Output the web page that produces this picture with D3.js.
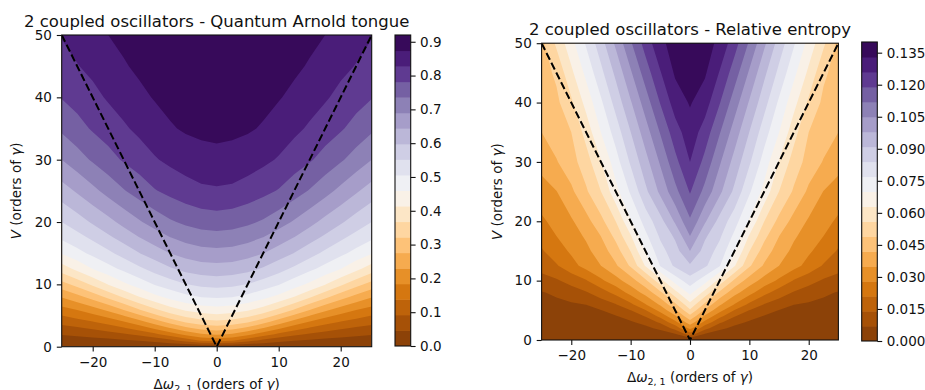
<!DOCTYPE html>
<html>
<head>
<meta charset="utf-8">
<script src="https://cdnjs.cloudflare.com/ajax/libs/d3/7.8.5/d3.min.js"></script>
<style>
  body { margin: 0; background: #fff; }
  svg { font-family: "DejaVu Sans", sans-serif; }
</style>
</head>
<body>
<script>
// grid the two maps were read on (detuning columns, coupling rows)
var deltaCols = [-25, -22.5, -20, -17.5, -15, -12.5, -10, -7.5, -5, -2.5, 0, 2.5, 5, 7.5, 10, 12.5, 15, 17.5, 20, 22.5, 25];
var vRows = [0, 1, 2, 3, 4, 5, 6, 8, 10, 12.5, 15, 17.5, 20, 25, 30, 35, 40, 45, 50];

// quantum Arnold tongue, one row per V value (estimated from the contour bands)
var arnoldRows = [
  [0,0,0,0,0,0,0,0,0,0,0,0,0,0,0,0,0,0,0,0,0],
  [.024,.027,.030,.034,.040,.048,.061,.081,.110,.143,.156,.143,.110,.081,.061,.048,.040,.034,.030,.027,.024],
  [.049,.055,.063,.073,.086,.104,.129,.161,.197,.226,.237,.226,.197,.161,.129,.104,.086,.073,.063,.055,.049],
  [.078,.087,.099,.115,.135,.160,.193,.231,.267,.292,.302,.292,.267,.231,.193,.160,.135,.115,.099,.087,.078],
  [.107,.121,.137,.157,.182,.215,.253,.294,.329,.350,.358,.350,.329,.294,.253,.215,.182,.157,.137,.121,.107],
  [.138,.155,.174,.199,.231,.269,.312,.350,.380,.398,.405,.398,.380,.350,.312,.269,.231,.199,.174,.155,.138],
  [.169,.188,.213,.244,.281,.323,.363,.398,.424,.439,.445,.439,.424,.398,.363,.323,.281,.244,.213,.188,.169],
  [.234,.262,.296,.334,.375,.414,.448,.474,.494,.508,.512,.508,.494,.474,.448,.414,.375,.334,.296,.262,.234],
  [.304,.339,.377,.416,.451,.481,.509,.531,.551,.563,.567,.563,.551,.531,.509,.481,.451,.416,.377,.339,.304],
  [.391,.426,.461,.490,.517,.543,.569,.593,.611,.622,.626,.622,.611,.593,.569,.543,.517,.490,.461,.426,.391],
  [.464,.491,.517,.542,.569,.597,.621,.645,.661,.672,.675,.672,.661,.645,.621,.597,.569,.542,.517,.491,.464],
  [.514,.536,.561,.589,.616,.643,.667,.689,.705,.715,.719,.715,.705,.689,.667,.643,.616,.589,.561,.536,.514],
  [.552,.577,.604,.630,.658,.685,.709,.730,.745,.755,.759,.755,.745,.730,.709,.685,.658,.630,.604,.577,.552],
  [.624,.650,.678,.706,.733,.756,.779,.795,.808,.819,.822,.819,.808,.795,.779,.756,.733,.706,.678,.650,.624],
  [.690,.716,.742,.765,.787,.805,.824,.838,.850,.859,.862,.859,.850,.838,.824,.805,.787,.765,.742,.716,.690],
  [.744,.766,.787,.804,.822,.838,.854,.870,.879,.883,.885,.883,.879,.870,.854,.838,.822,.804,.787,.766,.744],
  [.784,.799,.816,.833,.847,.864,.877,.886,.893,.896,.897,.896,.893,.886,.877,.864,.847,.833,.816,.799,.784],
  [.809,.826,.839,.853,.870,.882,.892,.899,.904,.906,.907,.906,.904,.899,.892,.882,.870,.853,.839,.826,.809],
  [.831,.844,.858,.874,.885,.897,.903,.908,.912,.914,.915,.914,.912,.908,.903,.897,.885,.874,.858,.844,.831]
];

// relative entropy, same grid
var entropyRows = [
  [0,0,0,0,0,0,0,0,0,0,0,0,0,0,0,0,0,0,0,0,0],
  [.0008,.0009,.0010,.0012,.0014,.0016,.0020,.0027,.0038,.0066,.018,.0066,.0038,.0027,.0020,.0016,.0014,.0012,.0010,.0009,.0008],
  [.0016,.0018,.0021,.0023,.0027,.0032,.0040,.0053,.0086,.0165,.030,.0165,.0086,.0053,.0040,.0032,.0027,.0023,.0021,.0018,.0016],
  [.0025,.0027,.0031,.0035,.0041,.0049,.0061,.0093,.0152,.026,.039,.026,.0152,.0093,.0061,.0049,.0041,.0035,.0031,.0027,.0025],
  [.0033,.0037,.0041,.0047,.0054,.0065,.0098,.0144,.023,.0339,.047,.0339,.023,.0144,.0098,.0065,.0054,.0047,.0041,.0037,.0033],
  [.0041,.0046,.0051,.0058,.0068,.0101,.0139,.0207,.0304,.0408,.055,.0408,.0304,.0207,.0139,.0101,.0068,.0058,.0051,.0046,.0041],
  [.0049,.0055,.0062,.0071,.0104,.0137,.0194,.0277,.036,.0475,.061,.0475,.036,.0277,.0194,.0137,.0104,.0071,.0062,.0055,.0049],
  [.0066,.0081,.0107,.0134,.0176,.0233,.0305,.0375,.0475,.0607,.072,.0607,.0475,.0375,.0305,.0233,.0176,.0134,.0107,.0081,.0066],
  [.011,.0131,.0164,.0204,.0266,.0323,.0386,.0475,.0604,.0728,.081,.0728,.0604,.0475,.0386,.0323,.0266,.0204,.0164,.0131,.011],
  [.017,.0203,.0255,.0305,.035,.041,.05,.0636,.0774,.0853,.09,.0853,.0774,.0636,.05,.041,.035,.0305,.0255,.0203,.017],
  [.0203,.0247,.0291,.0333,.0385,.0458,.0562,.0706,.0814,.0882,.098,.0882,.0814,.0706,.0562,.0458,.0385,.0333,.0291,.0247,.0203],
  [.0235,.028,.0318,.036,.0421,.051,.0624,.0754,.0851,.0922,.105,.0922,.0851,.0754,.0624,.051,.0421,.036,.0318,.028,.0235],
  [.0267,.0305,.0341,.0395,.047,.0561,.0692,.0799,.0886,.099,.111,.099,.0886,.0799,.0692,.0561,.047,.0395,.0341,.0305,.0267],
  [.0323,.0348,.0406,.048,.056,.0677,.078,.0894,.0996,.1099,.1196,.1099,.0996,.0894,.078,.0677,.056,.048,.0406,.0348,.0323],
  [.0373,.0415,.0463,.0528,.0625,.074,.085,.0954,.1059,.1169,.126,.1169,.1059,.0954,.085,.074,.0625,.0528,.0463,.0415,.0373],
  [.042,.0455,.049,.0586,.0701,.0802,.0909,.1017,.1125,.1229,.13,.1229,.1125,.1017,.0909,.0802,.0701,.0586,.049,.0455,.042],
  [.0439,.0474,.0547,.0654,.0758,.0866,.0973,.1084,.1194,.1293,.1336,.1293,.1194,.1084,.0973,.0866,.0758,.0654,.0547,.0474,.0439],
  [.0459,.0503,.0614,.0718,.0821,.0926,.104,.1153,.1255,.1339,.1366,.1339,.1255,.1153,.104,.0926,.0821,.0718,.0614,.0503,.0459],
  [.047,.0573,.0677,.0778,.0881,.0994,.1111,.1219,.1313,.1359,.1395,.1359,.1313,.1219,.1111,.0994,.0881,.0778,.0677,.0573,.047]
];

var arnoldLevels = [0, .046, .092, .138, .184, .23, .276, .322, .368, .414, .46, .506, .552, .598, .644, .69, .736, .782, .828, .874, .92];
var entropyLevels = [0, .007, .014, .021, .028, .035, .042, .049, .056, .063, .07, .077, .084, .091, .098, .105, .112, .119, .126, .133, .14];

var xTicks = [-20, -10, 0, 10, 20];
var yTicks = [0, 10, 20, 30, 40, 50];
var arnoldTicks = [0, .1, .2, .3, .4, .5, .6, .7, .8, .9];
var entropyTicks = [0, .015, .03, .045, .06, .075, .09, .105, .12, .135];

// the V = 2|dw| guide drawn dashed on both maps
var tongueLine = [[-25, 50], [0, 0], [25, 50]];

// matplotlib PuOr anchors
var puorStops = ["#7f3b08", "#b35806", "#e08214", "#fdb863", "#fee0b6", "#f7f7f7", "#d8daeb", "#b2abd2", "#8073ac", "#542788", "#2d004b"];
var puor = d3.scaleLinear().domain(d3.range(11).map(function (i) { return i / 10; })).range(puorStops).interpolate(d3.interpolateRgb);

var panels = [
  { rows: arnoldRows, levels: arnoldLevels, ticks: arnoldTicks, fmt: ".1f",
    title: "2 coupled oscillators - Quantum Arnold tongue",
    box: { x0: 61.7, x1: 371.7, y0: 35, y1: 346.7 },
    bar: { x0: 395, x1: 410.7, y0: 35, y1: 346 },
    titleY: 26.7, ylabX: 20.5, xlabY: 388.5 },
  { rows: entropyRows, levels: entropyLevels, ticks: entropyTicks, fmt: ".3f",
    title: "2 coupled oscillators - Relative entropy",
    box: { x0: 541.6, x1: 838.4, y0: 43.2, y1: 340 },
    bar: { x0: 861.7, x1: 877.3, y0: 42, y1: 341 },
    titleY: 34.5, ylabX: 501.5, xlabY: 381.7 }
];

var svg = d3.select("body").append("svg")
    .attr("width", 925)
    .attr("height", 390);

var ink = "#111";

function styleAxis(sel) {
  sel.select(".domain").remove();
  sel.selectAll(".tick line").attr("stroke", ink).attr("stroke-width", 1.1);
  sel.selectAll(".tick text").attr("fill", ink).style("font-size", "13.5px");
  sel.attr("font-family", null).attr("font-size", null);
}

panels.forEach(function (p, pi) {
  var x = d3.scaleLinear().domain([-25, 25]).range([p.box.x0, p.box.x1]);
  var y = d3.scaleLinear().domain([0, 50]).range([p.box.y1, p.box.y0]);
  var nb = p.levels.length - 1;
  var bandColor = function (k) { return puor((k + 0.5) / nb); };

  var g = svg.append("g");

  svg.append("clipPath").attr("id", "clip" + pi).append("rect")
      .attr("x", p.box.x0).attr("y", p.box.y0)
      .attr("width", p.box.x1 - p.box.x0).attr("height", p.box.y1 - p.box.y0);

  var plot = g.append("g").attr("clip-path", "url(#clip" + pi + ")");

  // lowest band as background
  plot.append("rect")
      .attr("x", p.box.x0).attr("y", p.box.y0)
      .attr("width", p.box.x1 - p.box.x0).attr("height", p.box.y1 - p.box.y0)
      .attr("fill", bandColor(0));

  // grid index -> data coordinate (rows are not evenly spaced)
  var ix = d3.scaleLinear().domain(d3.range(deltaCols.length)).range(deltaCols).clamp(true);
  var iy = d3.scaleLinear().domain(d3.range(vRows.length)).range(vRows).clamp(true);
  var path = d3.geoPath(d3.geoTransform({
    point: function (px, py) { this.stream.point(x(ix(px - 0.5)), y(iy(py - 0.5))); }
  }));

  var bands = d3.contours()
      .size([deltaCols.length, vRows.length])
      .thresholds(p.levels.slice(1, -1))(d3.merge(p.rows));

  plot.selectAll("path.band")
      .data(bands)
      .enter().append("path")
      .attr("class", "band")
      .attr("d", path)
      .attr("fill", function (d) { return bandColor(p.levels.indexOf(d.value)); });

  plot.append("path")
      .datum(tongueLine)
      .attr("d", d3.line().x(function (d) { return x(d[0]); }).y(function (d) { return y(d[1]); }))
      .attr("fill", "none")
      .attr("stroke", "#000")
      .attr("stroke-width", 2)
      .attr("stroke-dasharray", "7.6,3.3");

  // axes
  g.append("g")
      .attr("transform", "translate(0," + p.box.y1 + ")")
      .call(d3.axisBottom(x).tickValues(xTicks).tickSize(4.9).tickPadding(5.5).tickSizeOuter(0))
      .call(styleAxis);
  g.append("g")
      .attr("transform", "translate(" + p.box.x0 + ",0)")
      .call(d3.axisLeft(y).tickValues(yTicks).tickSize(4.9).tickPadding(4.9).tickSizeOuter(0))
      .call(styleAxis);

  g.append("rect")
      .attr("x", p.box.x0).attr("y", p.box.y0)
      .attr("width", p.box.x1 - p.box.x0).attr("height", p.box.y1 - p.box.y0)
      .attr("fill", "none").attr("stroke", ink).attr("stroke-width", 1.1);

  var cx = (p.box.x0 + p.box.x1) / 2;

  g.append("text")
      .attr("x", cx).attr("y", p.titleY)
      .attr("text-anchor", "middle")
      .attr("fill", ink)
      .style("font-size", "16.5px")
      .text(p.title);

  var xl = g.append("text")
      .attr("x", cx).attr("y", p.xlabY)
      .attr("text-anchor", "middle")
      .attr("fill", ink)
      .style("font-size", "13.5px");
  xl.append("tspan").text("Δ");
  xl.append("tspan").attr("font-style", "italic").text("ω");
  xl.append("tspan").attr("dy", 3).style("font-size", "9.5px").text("2, 1");
  xl.append("tspan").attr("dy", -3).text(" (orders of ");
  xl.append("tspan").attr("font-style", "italic").text("γ");
  xl.append("tspan").text(")");

  var yl = g.append("text")
      .attr("transform", "translate(" + p.ylabX + "," + ((p.box.y0 + p.box.y1) / 2) + ") rotate(-90)")
      .attr("text-anchor", "middle")
      .attr("fill", ink)
      .style("font-size", "13.5px");
  yl.append("tspan").attr("font-style", "italic").text("V");
  yl.append("tspan").text(" (orders of ");
  yl.append("tspan").attr("font-style", "italic").text("γ");
  yl.append("tspan").text(")");

  // colorbar
  var cy = d3.scaleLinear().domain([p.levels[0], p.levels[nb]]).range([p.bar.y1, p.bar.y0]);
  g.selectAll("rect.cb")
      .data(d3.range(nb))
      .enter().append("rect")
      .attr("class", "cb")
      .attr("x", p.bar.x0)
      .attr("width", p.bar.x1 - p.bar.x0)
      .attr("y", function (k) { return cy(p.levels[k + 1]); })
      .attr("height", function (k) { return cy(p.levels[k]) - cy(p.levels[k + 1]) + (k > 0 ? 0.5 : 0); })
      .attr("fill", bandColor);
  g.append("rect")
      .attr("x", p.bar.x0).attr("y", p.bar.y0)
      .attr("width", p.bar.x1 - p.bar.x0).attr("height", p.bar.y1 - p.bar.y0)
      .attr("fill", "none").attr("stroke", ink).attr("stroke-width", 1.1);
  g.append("g")
      .attr("transform", "translate(" + p.bar.x1 + ",0)")
      .call(d3.axisRight(cy).tickValues(p.ticks).tickFormat(d3.format(p.fmt)).tickSize(4.9).tickPadding(4.5).tickSizeOuter(0))
      .call(styleAxis);
});
</script>
</body>
</html>
